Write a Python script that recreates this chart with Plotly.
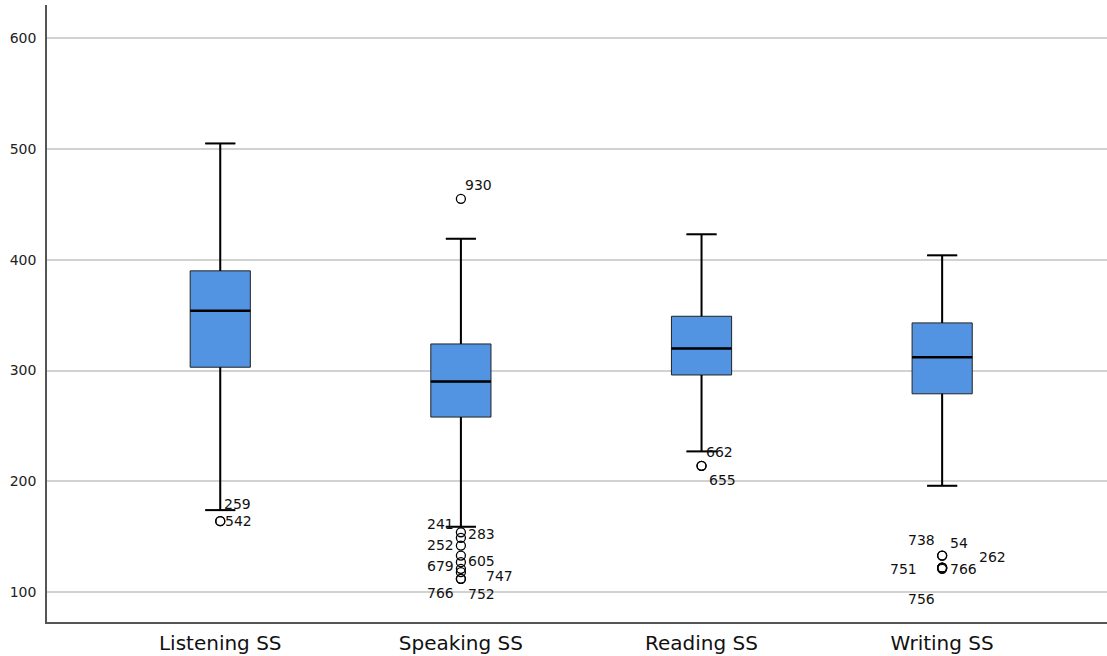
import plotly.graph_objects as go

categories = ["Listening SS", "Speaking SS", "Reading SS", "Writing SS"]
q1 = [303, 258, 296, 279]
median = [354, 290, 320, 312]
q3 = [390, 324, 349, 343]
lower_whisker = [174, 159, 227, 196]
upper_whisker = [505, 419, 423, 404]

# outliers per category: (value, case id)
listening_outliers = [164, 164]
listening_ids = ["259", "542"]
speaking_outliers = [455, 154, 149, 142, 133, 127, 121, 118, 112, 112]
speaking_ids = ["930", "241", "283", "252", "605", "679", "747", "766", "752"]
reading_outliers = [214, 214]
reading_ids = ["662", "655"]
writing_outliers = [133, 133, 122, 122, 122, 121]
writing_ids = ["738", "54", "262", "751", "766", "756"]

# label styling: (category index, outlier index, id index, xanchor, xshift, yshift)
label_style = [
    (0, 0, 0, "left", 2, 17), (0, 1, 1, "left", 3, 0),
    (1, 0, 0, "left", 2, 14),
    (1, 1, 1, "right", -5, 8), (1, 2, 2, "left", 5, 4),
    (1, 3, 3, "right", -5, 1), (1, 4, 4, "left", 5, -5),
    (1, 5, 5, "right", -5, -4), (1, 7, 6, "left", 23, -4),
    (1, 8, 7, "right", -5, -14), (1, 9, 8, "left", 5, -15),
    (2, 0, 0, "left", 2, 14), (2, 1, 1, "left", 5, -14),
    (3, 0, 0, "right", -5, 16), (3, 1, 1, "left", 6, 13),
    (3, 2, 2, "left", 35, 11), (3, 3, 3, "right", -23, -1),
    (3, 4, 4, "left", 6, -1), (3, 5, 5, "right", -5, -30),
]

outliers = [listening_outliers, speaking_outliers, reading_outliers, writing_outliers]
ids = [listening_ids, speaking_ids, reading_ids, writing_ids]

BOX_W = 0.25
FILL = "#5294E2"
fig = go.Figure()

for i, c in enumerate(categories):
    fig.add_trace(go.Box(
        x=[i], q1=[q1[i]], median=[median[i]], q3=[q3[i]],
        lowerfence=[lower_whisker[i]], upperfence=[upper_whisker[i]],
        width=BOX_W, whiskerwidth=0.5, fillcolor=FILL,
        line=dict(color="#222222", width=1), boxpoints=False,
        showlegend=False, hoverinfo="skip"))
    # thick whiskers and caps
    half_cap = BOX_W / 4
    fig.add_trace(go.Scatter(
        x=[i, i, None, i, i, None, i - half_cap, i + half_cap, None, i - half_cap, i + half_cap],
        y=[q3[i], upper_whisker[i], None, q1[i], lower_whisker[i], None,
           upper_whisker[i], upper_whisker[i], None, lower_whisker[i], lower_whisker[i]],
        mode="lines", line=dict(color="black", width=2),
        showlegend=False, hoverinfo="skip"))
    # thick median
    fig.add_trace(go.Scatter(
        x=[i - BOX_W / 2, i + BOX_W / 2], y=[median[i], median[i]],
        mode="lines", line=dict(color="black", width=2.5),
        showlegend=False, hoverinfo="skip"))
    # outliers
    fig.add_trace(go.Scatter(
        x=[i] * len(outliers[i]), y=outliers[i], mode="markers",
        marker=dict(symbol="circle-open", size=9, color="black", line=dict(width=1.3)),
        showlegend=False, hoverinfo="skip"))

for ci, oi, li, anchor, xs, ys in label_style:
    fig.add_annotation(
        x=ci, y=outliers[ci][oi], text=ids[ci][li], showarrow=False,
        xanchor=anchor, yanchor="middle", xshift=xs, yshift=ys,
        font=dict(family="DejaVu Sans", size=14, color="#111111"))

fig.update_layout(
    width=1107, height=656,
    margin=dict(l=47, r=0, t=5, b=34),
    plot_bgcolor="white", paper_bgcolor="white",
    font=dict(family="DejaVu Sans", color="#222222"),
    xaxis=dict(
        range=[-0.72, 3.685], tickvals=list(range(len(categories))),
        ticktext=categories, showgrid=False, zeroline=False,
        showline=True, linecolor="#555555", linewidth=1.5,
        tickfont=dict(size=20, color="#111111"), ticks="", ticklabelstandoff=2),
    yaxis=dict(
        range=[73, 630], tickvals=[100, 200, 300, 400, 500, 600],
        showgrid=True, gridcolor="#d2d2d2", gridwidth=2, zeroline=False,
        showline=True, linecolor="#555555", linewidth=1.5,
        tickfont=dict(size=14, color="#222222"), ticks="", ticklabelstandoff=6),
)

fig.write_html("out.html", config={"displayModeBar": False},
               post_script="document.body.style.margin='0';document.body.style.overflow='hidden';")
